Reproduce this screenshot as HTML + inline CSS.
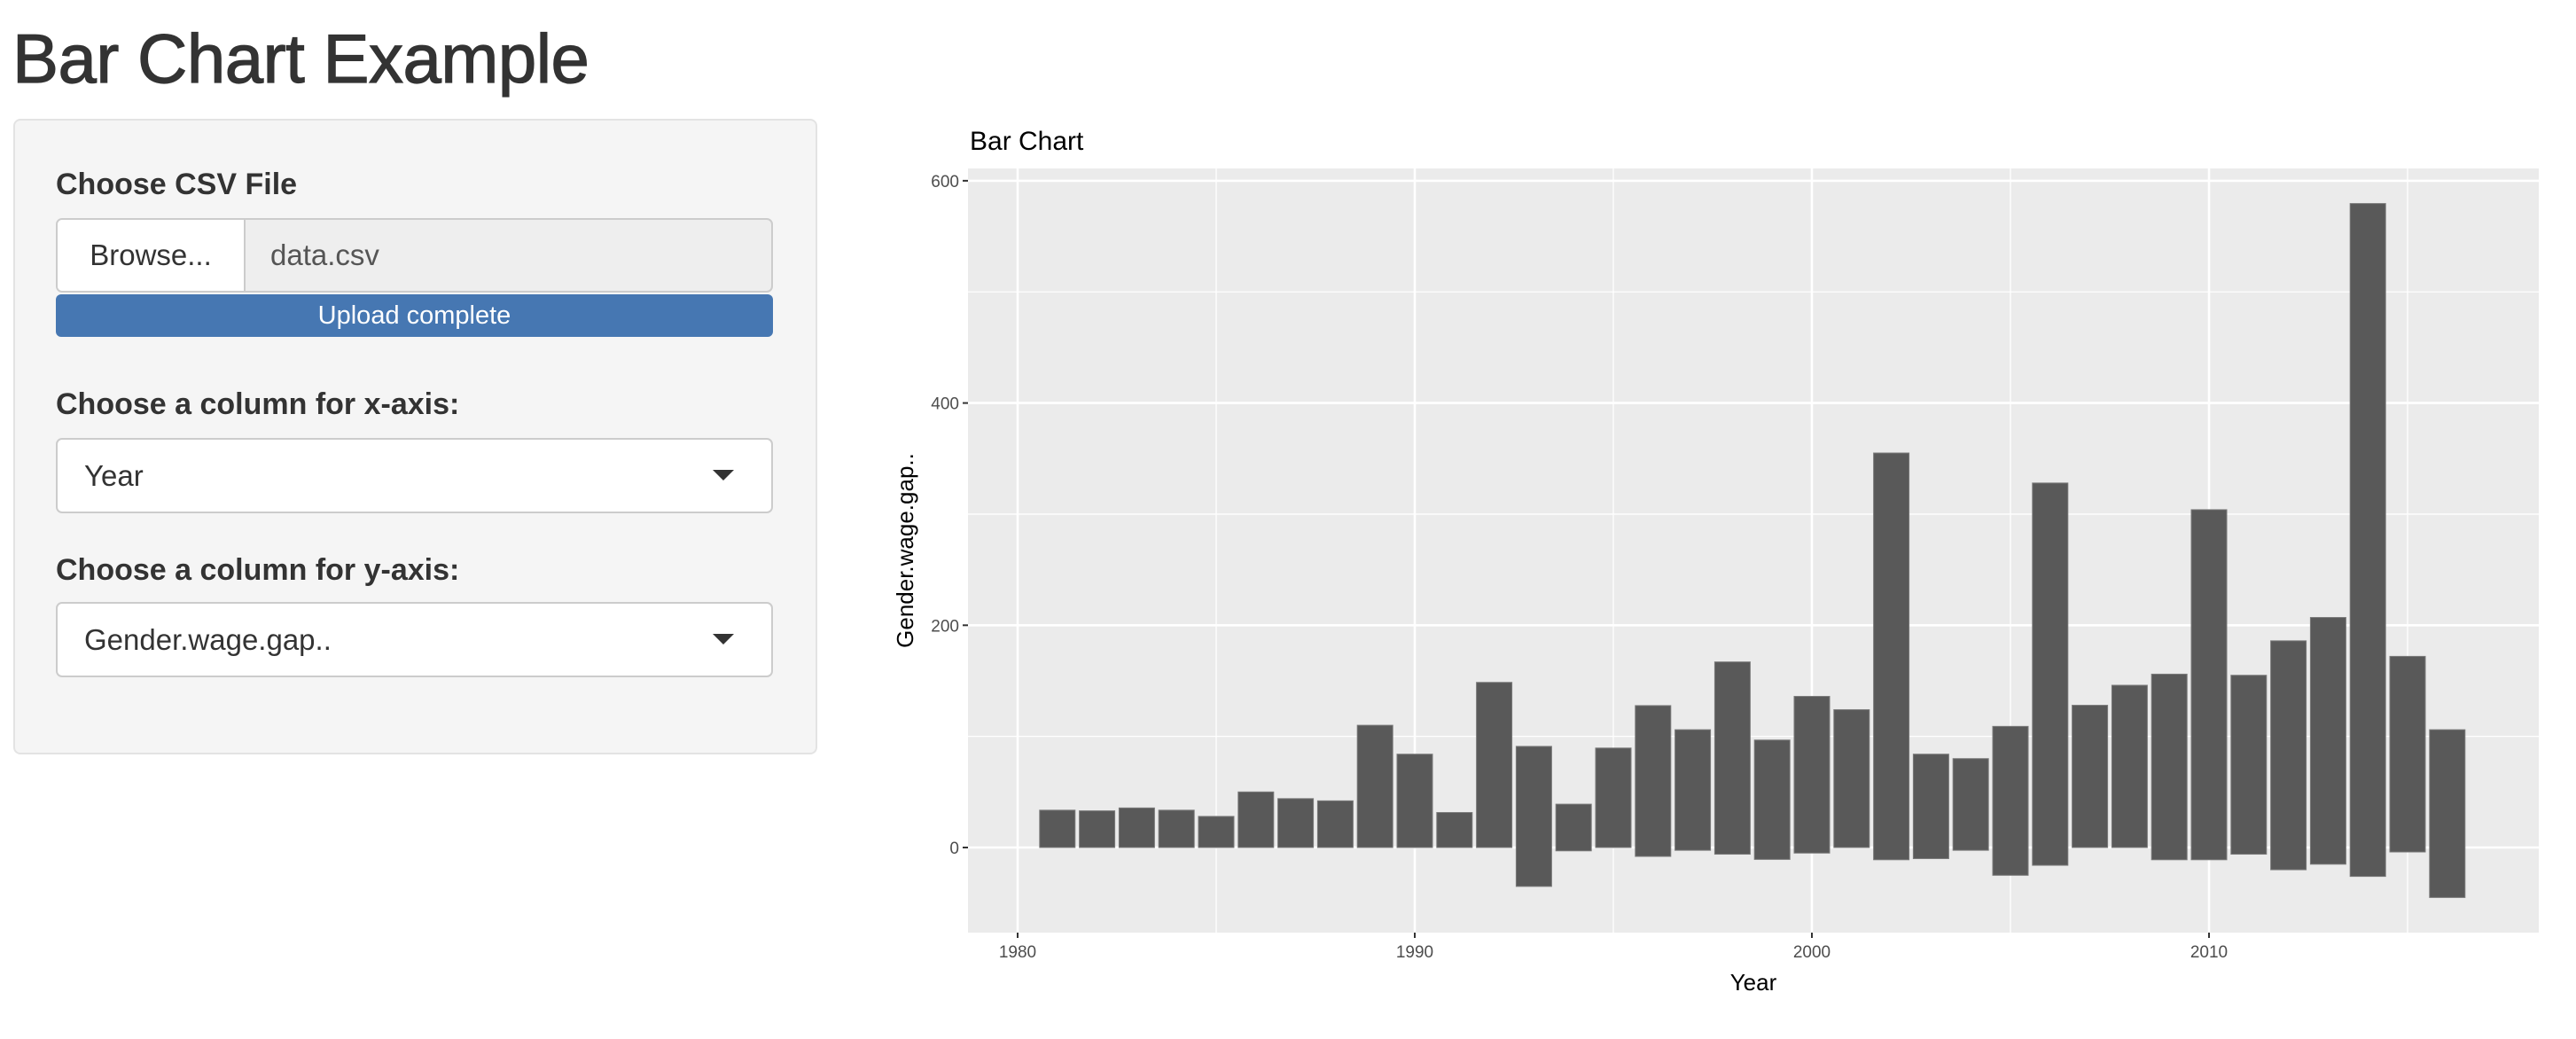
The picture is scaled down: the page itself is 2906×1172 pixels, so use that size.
<!DOCTYPE html>
<html><head><meta charset="utf-8"><style>
body{margin:0;width:2906px;height:1172px;background:#fff;font-family:"Liberation Sans",sans-serif;color:#333;position:relative;overflow:hidden}
.abs{position:absolute}
h1{position:absolute;left:14px;top:18px;margin:0;font-size:78px;font-weight:normal;line-height:96px;letter-spacing:-0.5px;-webkit-text-stroke:1.2px #333}
.panel{left:15px;top:134px;width:907px;height:717px;background:#f5f5f5;border:2px solid #e3e3e3;border-radius:8px;box-sizing:border-box}
.lbl{font-weight:bold;font-size:34px;left:63px}
.sel{left:63px;width:809px;height:85px;background:#fff;border:2px solid #ccc;border-radius:7px;box-sizing:border-box;font-size:33px;line-height:81px;padding-left:30px}
.arrow{position:absolute;right:42px;top:34px;width:0;height:0;border-left:12px solid transparent;border-right:12px solid transparent;border-top:12px solid #333}
</style></head><body>
<h1>Bar Chart Example</h1>
<div class="abs panel"></div>
<div class="abs lbl" style="top:189px">Choose CSV File</div>
<div class="abs" style="left:63px;top:246px;width:809px;height:84px;border:2px solid #ccc;border-radius:7px;box-sizing:border-box;background:#eee;overflow:hidden">
  <div class="abs" style="left:0;top:0;width:210px;height:80px;background:#fff;border-right:2px solid #ccc;font-size:33px;line-height:80px;text-align:center">Browse...</div>
  <div class="abs" style="left:240px;top:0;font-size:33px;line-height:80px;color:#555">data.csv</div>
</div>
<div class="abs" style="left:63px;top:332px;width:809px;height:48px;background:#4677b2;border-radius:6px;color:#fff;font-size:29px;line-height:48px;text-align:center">Upload complete</div>
<div class="abs lbl" style="top:437px">Choose a column for x-axis:</div>
<div class="abs sel" style="top:494px">Year<div class="arrow"></div></div>
<div class="abs lbl" style="top:624px">Choose a column for y-axis:</div>
<div class="abs sel" style="top:679px">Gender.wage.gap..<div class="arrow"></div></div>

<svg class="abs" style="left:0;top:0" width="2906" height="1172" id="chart">
<text x="1094" y="169" font-size="30" fill="#000">Bar Chart</text>
<rect x="1092" y="190" width="1772" height="862" fill="#ebebeb"/>
<g id="grid"></g><g id="bars"></g><g id="axes"></g>
<text x="1978" y="1117" font-size="26" fill="#000" text-anchor="middle">Year</text>
<text transform="translate(1030,621) rotate(-90)" font-size="26" fill="#000" text-anchor="middle">Gender.wage.gap..</text>
</svg>
<script>
const years=[1981,1982,1983,1984,1985,1986,1987,1988,1989,1990,1991,1992,1993,1994,1995,1996,1997,1998,1999,2000,2001,2002,2003,2004,2005,2006,2007,2008,2009,2010,2011,2012,2013,2014,2015,2016];
const posValues=[33.6,33,35.6,33.6,28,50,44,42,110,84,31.5,148.6,91,39,89.5,127.7,106,167,96.7,136,124,355,84,80,109,328,128,146,156,304,155,186,207,579.5,172,106];
const negValues=[0,0,0,0,0,0,0,0,0,0,0,0,-35,-3,0,-8,-2.5,-6,-10.7,-5,0,-11,-10,-2.5,-25,-16,0,0,-11,-11,-6,-20,-15,-26,-4,-45];
const yTicks=[0,200,400,600];
const yMinor=[100,300,500];
const xTicks=[1980,1990,2000,2010];
const xMinor=[1985,1995,2005,2015];
const NS='http://www.w3.org/2000/svg';
const X=v=>1148+(v-1980)*44.8;
const Y=v=>956-v*1.2535;
const L=1092,R=2864,T=190,B=1052;
function mk(tag,attrs,parent){const e=document.createElementNS(NS,tag);for(const k in attrs)e.setAttribute(k,attrs[k]);parent.appendChild(e);return e;}
const grid=document.getElementById('grid'),bars=document.getElementById('bars'),axes=document.getElementById('axes');
yMinor.forEach(v=>{const l=mk('line',{x1:L,x2:R,y1:Y(v),y2:Y(v),stroke:'#fff','stroke-width':1.3},grid);

});
xMinor.forEach(v=>{const l=mk('line',{x1:X(v),x2:X(v),y1:T,y2:B,stroke:'#fff','stroke-width':1.3},grid);

});
yTicks.forEach(v=>{const l=mk('line',{x1:L,x2:R,y1:Y(v),y2:Y(v),stroke:'#fff','stroke-width':2.6},grid);


const tk=mk('line',{x1:L-6,x2:L,y1:Y(v),y2:Y(v),stroke:'#333','stroke-width':2},axes);


const t=mk('text',{x:L-10,y:Y(v)+7,'font-size':19,fill:'#4d4d4d','text-anchor':'end'},axes);t.textContent=v;

});
xTicks.forEach(v=>{const l=mk('line',{x1:X(v),x2:X(v),y1:T,y2:B,stroke:'#fff','stroke-width':2.6},grid);


const tk=mk('line',{x1:X(v),x2:X(v),y1:B,y2:B+6,stroke:'#333','stroke-width':2},axes);


const t=mk('text',{x:X(v),y:B+28,'font-size':19,fill:'#4d4d4d','text-anchor':'middle'},axes);t.textContent=v;

});
years.forEach((yr,i)=>{const w=40;const top=Y(posValues[i]),bot=Y(negValues[i]);
const r=mk('rect',{x:X(yr)-w/2,y:top,width:w,height:bot-top,fill:'#595959',stroke:'#7a7a7a','stroke-width':1},bars);

});
</script>
</body></html>
